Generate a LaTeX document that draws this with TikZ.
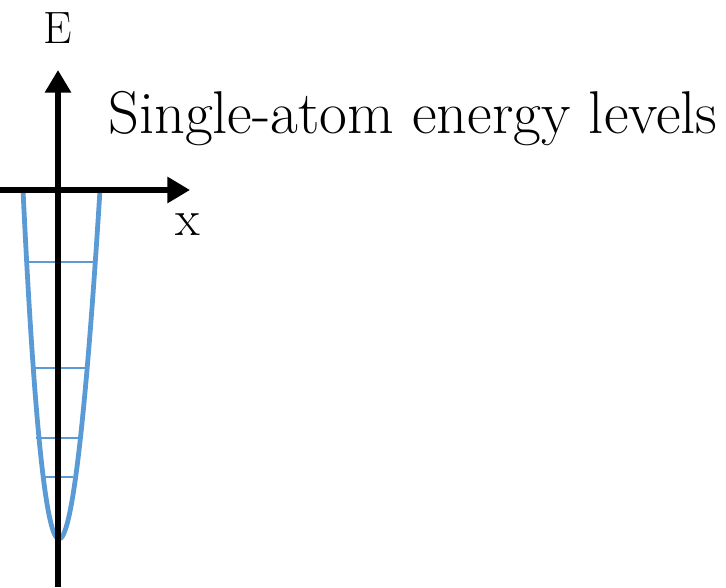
\documentclass[tikz,border=0pt]{standalone}
\usepackage{fontspec}
\usetikzlibrary{arrows.meta}
\definecolor{wellblue}{HTML}{5B9BD5}
\begin{document}
\begin{tikzpicture}[x=0.75pt,y=-0.75pt,
  axis/.style={line width=3.8pt,-{Triangle[length=17pt,width=19pt]}},
  well/.style={wellblue,line width=3.6pt},
  level/.style={wellblue,line width=1.8pt},
  lbl/.style={inner sep=0pt,anchor=base}]
\useasboundingbox (0,0) rectangle (726,587);
% potential well (parabola as cubic Bezier)
\coordinate (wl) at (23,190);
\coordinate (wr) at (100,190);
\draw[well] (wl) .. controls (45.3,655.3) and (71,655.3) .. (wr);
% energy levels
\coordinate (l1a) at (28,262); \coordinate (l1b) at (95,262);
\coordinate (l2a) at (35,368); \coordinate (l2b) at (85,368);
\coordinate (l3a) at (36,438); \coordinate (l3b) at (79,438);
\coordinate (l4a) at (45,477); \coordinate (l4b) at (73,477);
\draw[level] (l1a) -- (l1b);
\draw[level] (l2a) -- (l2b);
\draw[level] (l3a) -- (l3b);
\draw[level] (l4a) -- (l4b);
% axes
\coordinate (ybot) at (58,587);
\coordinate (ytop) at (58,70);
\coordinate (xl) at (0,190);
\coordinate (xr) at (190,190);
\draw[axis] (ybot) -- (ytop);
\draw[axis] (xl) -- (xr);
% labels
\node[lbl,font=\fontsize{34}{40}\selectfont] (E) at (58,43) {E};
\node[lbl,font=\fontsize{38}{44}\selectfont] (X) at (188,235) {x};
\node[inner sep=0pt,anchor=base west,font=\fontsize{45.3}{52}\selectfont] (T) at (108,133) {Single-atom energy levels};
\end{tikzpicture}
\end{document}
